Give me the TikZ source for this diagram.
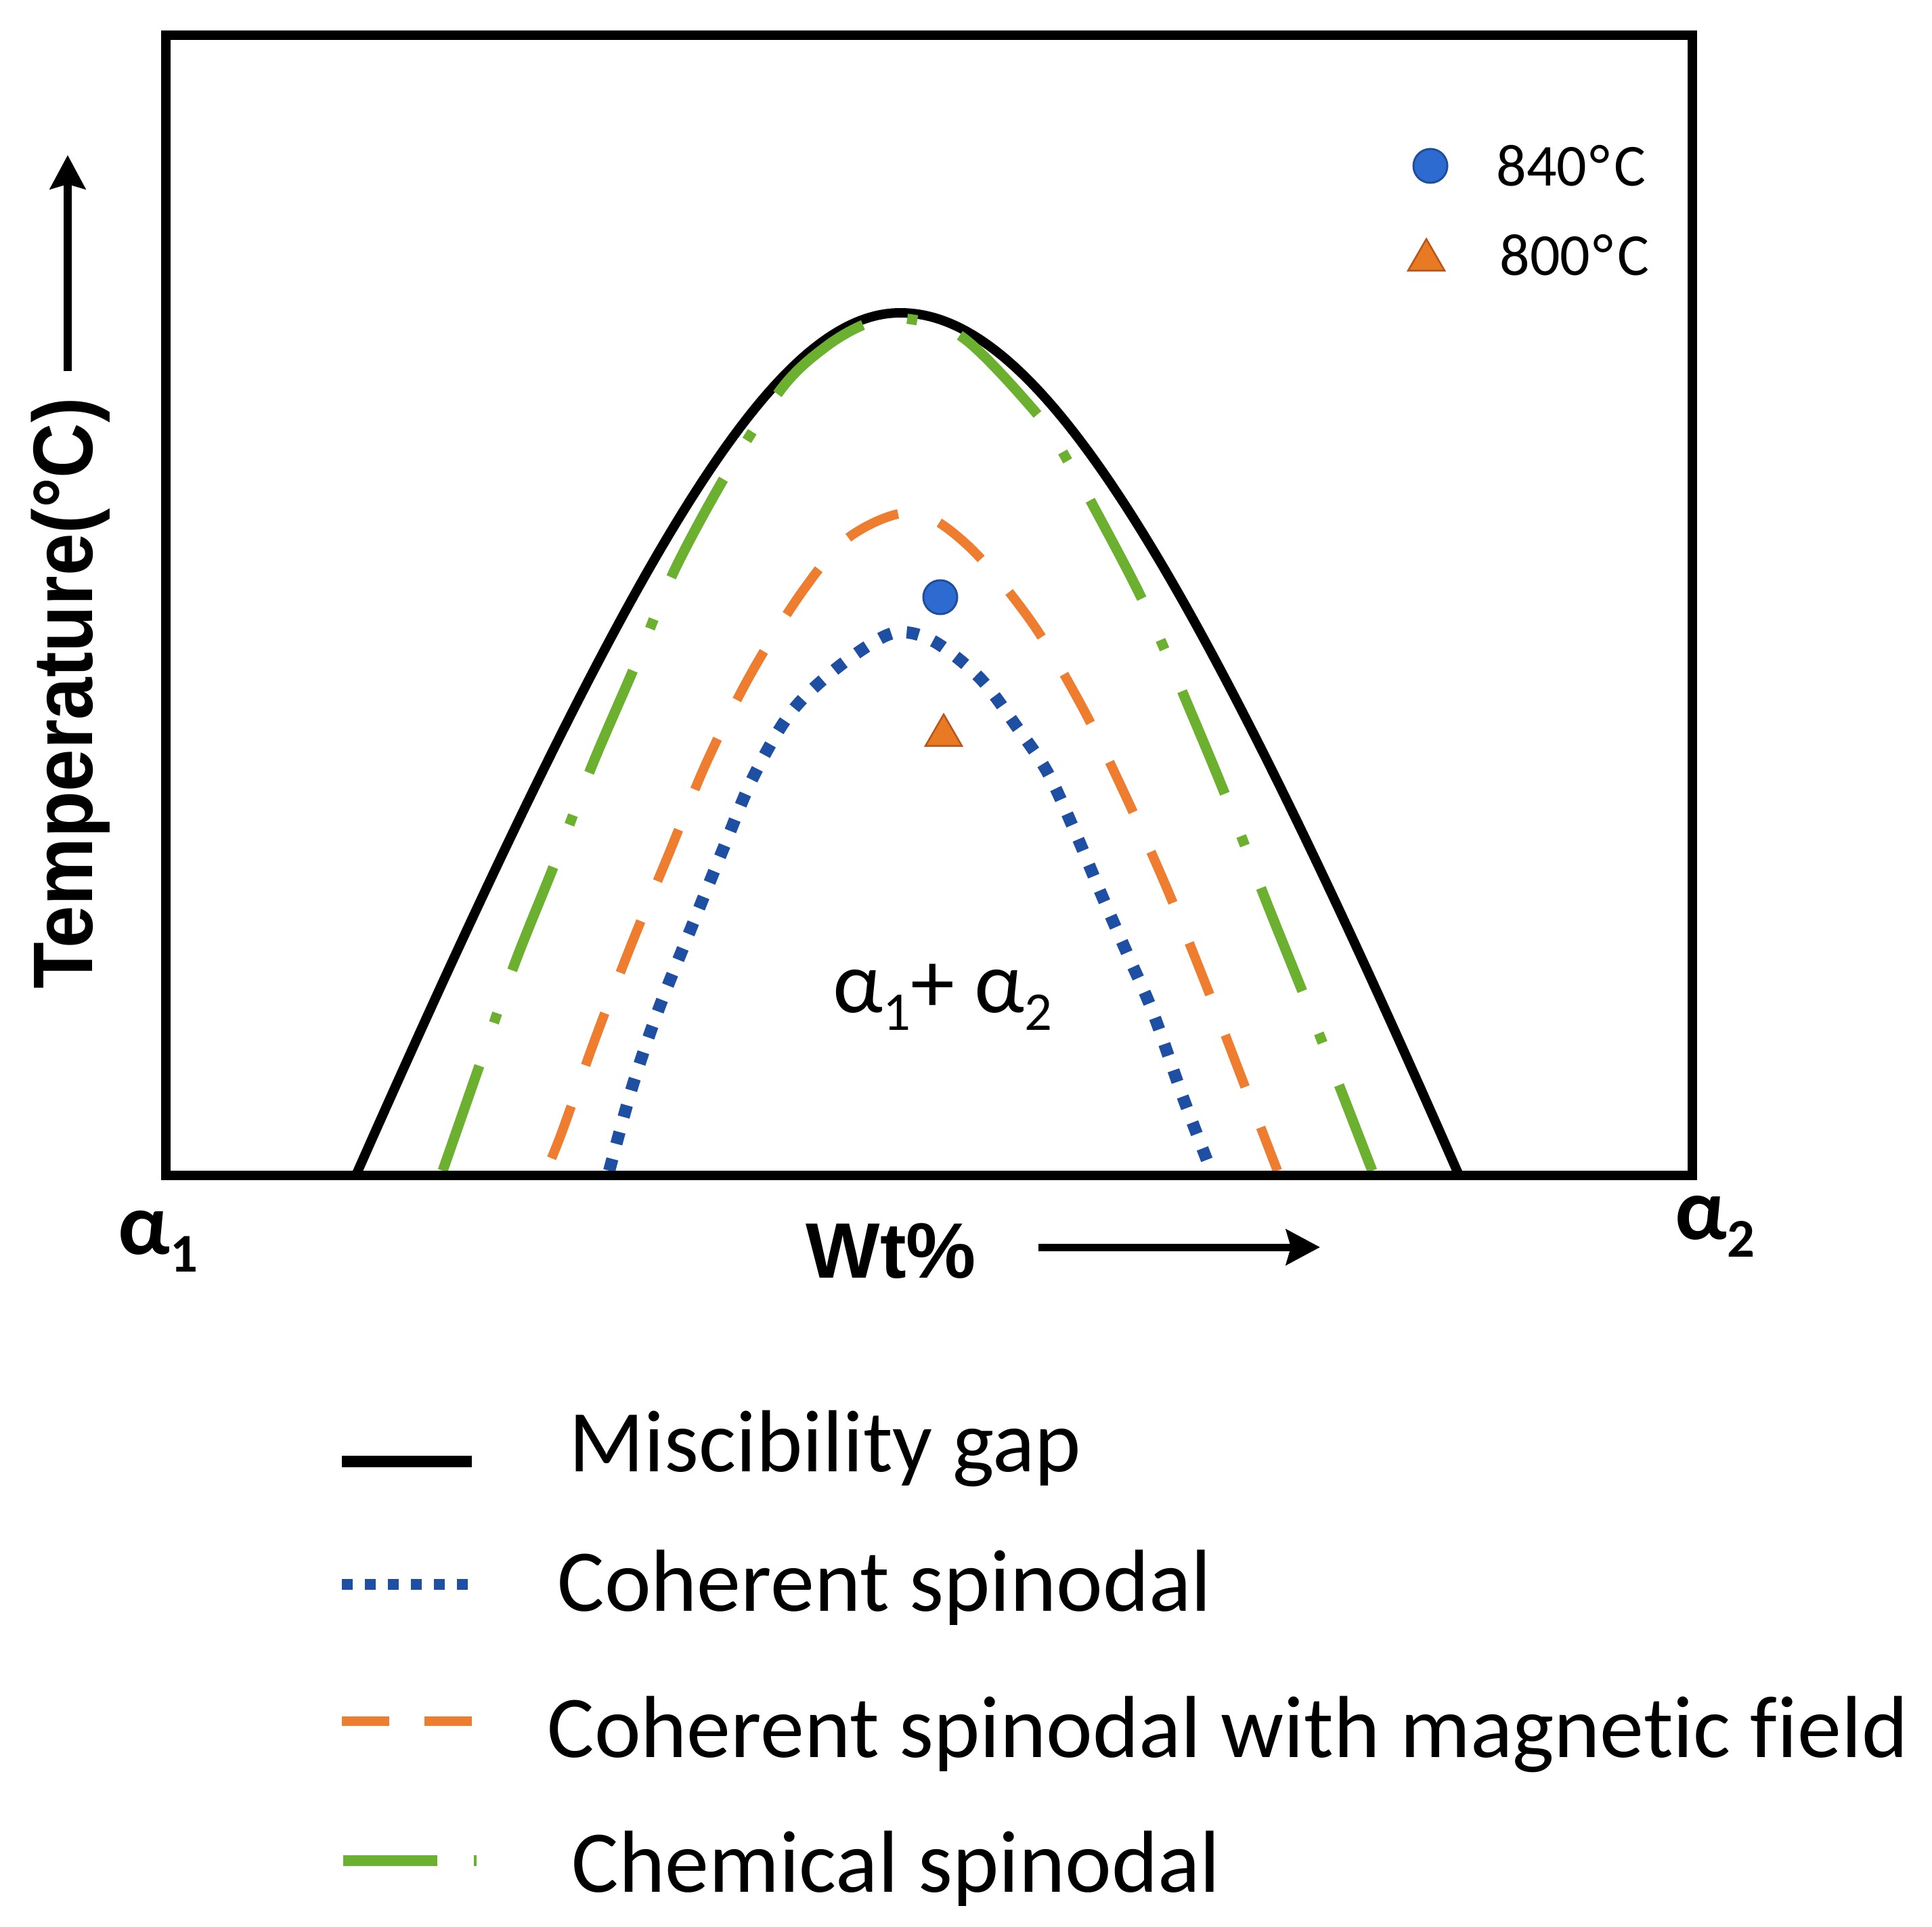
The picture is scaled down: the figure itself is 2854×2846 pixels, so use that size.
\documentclass[tikz,border=0pt]{standalone}
\usepackage{fontspec}
\usepackage{graphicx}
\setmainfont{Carlito}[Ligatures={NoCommon}]
\newfontfamily\arialf{Liberation Sans}
\usetikzlibrary{arrows.meta,shapes.geometric}
\definecolor{dotblue}{HTML}{2E6BD0}
\definecolor{dotblueedge}{HTML}{1F4E9C}
\definecolor{triorange}{HTML}{E87A24}
\definecolor{triedge}{HTML}{B8561B}
\definecolor{cohblue}{HTML}{1F4FA3}
\definecolor{magorange}{HTML}{EE7D2F}
\definecolor{chemgreen}{HTML}{6BB12F}
\newcommand{\dsub}[1]{\raisebox{-0.2em}{\scalebox{0.62}{#1}}}
\newcommand{\degc}{\kern0.05em°\kern0.07em C}
\tikzset{
  gapline/.style={line width=0.14cm, black},
  cohline/.style={line width=0.18cm, cohblue, dash pattern=on 0.18cm off 0.23cm},
  magline/.style={line width=0.14cm, magorange, dash pattern=on 0.82cm off 0.64cm},
  chemline/.style={line width=0.15cm, chemgreen, dash pattern=on 1.64cm off 0.67cm on 0.15cm off 0.67cm},
  framebox/.style={line width=0.14cm, black},
  axarrow/.style={line width=0.11cm, black, -{Stealth[length=0.5cm,width=0.52cm,inset=0.07cm]}},
  legtxt/.style={inner sep=0pt, anchor=base west, font=\fontsize{37}{42}\selectfont},
  smalltxt/.style={inner sep=0pt, anchor=base west, font=\fontsize{25}{30}\selectfont},
  bluedot/.style={circle, inner sep=0pt, outer sep=0pt, minimum size=0.5cm, fill=dotblue, draw=dotblueedge, line width=0.03cm},
  orangetri/.style={regular polygon, regular polygon sides=3, inner sep=0pt, outer sep=0pt, minimum size=0.62cm, fill=triorange, draw=triedge, line width=0.025cm}
}
\begin{document}
\begin{tikzpicture}[x=0.01cm,y=-0.01cm]
\useasboundingbox (0,0) rectangle (2854,2846);

% miscibility gap
\draw[gapline] plot[domain=-8.04:0, samples=70, smooth] ({1330+100*\x},{462+100*(sqrt(90.25+6.25*\x*\x)-9.5)})
  -- plot[domain=0:8.25, samples=70, smooth] ({1330+100*\x},{462+100*(sqrt(136.89+6.76*\x*\x)-11.7)});
% chemical spinodal
\draw[chemline] plot[smooth, tension=0.55] coordinates {(654,1729) (707,1577) (760,1424) (820,1274) (874,1132) (939,981) (996,843) (1075,697) (1156,572) (1220,512) (1280,478) (1335,470) (1423,499) (1535,615) (1578,682) (1616,749) (1690,891) (1753,1037) (1812,1179) (1868,1325) (1927,1472) (1984,1618) (2027,1729)};
% coherent spinodal with magnetic field
\draw[magline, dash phase=1.26cm] plot[smooth, tension=0.55] coordinates {(807,1729) (830,1672) (880,1532) (933,1394) (988,1261) (1045,1123) (1111,992) (1187,871) (1256,792) (1348,757) (1429,805) (1522,916) (1598,1043) (1662,1174) (1722,1308) (1778,1446) (1830,1581) (1875,1698) (1887,1729)};
% coherent spinodal
\draw[cohline] plot[smooth, tension=0.55] coordinates {(900,1729) (934,1605) (972,1493) (1020,1373) (1069,1252) (1112,1149) (1167,1054) (1232,990) (1302,942) (1340,934) (1386,951) (1449,1003) (1501,1072) (1547,1140) (1587,1226) (1627,1321) (1665,1408) (1703,1495) (1748,1622) (1789,1729)};

% frame
\draw[framebox] (245,52) rectangle (2500,1736);

% data markers
\node[bluedot] (p840) at (1389,882) {};
\node[orangetri] (p800) at (1394,1086) {};
\node[bluedot] (l840) at (2113,245) {};
\node[orangetri] (l800) at (2107,384) {};
\node[smalltxt] (t840) at (2210,275) {840\degc};
\node[smalltxt] (t800) at (2215,407) {800\degc};

% region label
\node[legtxt] (reg) at (1230,1495) {α\dsub{1}+ α\dsub{2}};

% axes
\coordinate (ytail) at (100,548);
\coordinate (yhead) at (100,229);
\draw[axarrow] (ytail) -- (yhead);
\coordinate (xtail) at (1534,1842);
\coordinate (xhead) at (1950,1842);
\draw[axarrow] (xtail) -- (xhead);
\node[rotate=90, anchor=base, inner sep=0pt] (ylab) at (136,1024) {\arialf\bfseries\fontsize{35.5}{40}\selectfont\scalebox{0.9}[1]{Temperature(°C)}};
\node[inner sep=0pt, anchor=base west] (xlab) at (1190,1887) {\arialf\bfseries\fontsize{33}{38}\selectfont Wt\%};
\node[inner sep=0pt, anchor=base west] (a1) at (174,1852) {\bfseries\fontsize{37}{42}\selectfont α\dsub{1}};
\node[inner sep=0pt, anchor=base west] (a2) at (2474,1830) {\bfseries\fontsize{37}{42}\selectfont α\dsub{2}};

% legend
\coordinate (g1a) at (505,2158); \coordinate (g1b) at (697,2158);
\coordinate (g2a) at (505,2340); \coordinate (g2b) at (697,2340);
\coordinate (g3a) at (505,2542); \coordinate (g3b) at (697,2542);
\coordinate (g4a) at (507,2748); \coordinate (g4b) at (704,2748);
\draw[gapline, line width=0.17cm] (g1a) -- (g1b);
\draw[cohline, line width=0.16cm, dash pattern=on 0.16cm off 0.18cm] (g2a) -- (g2b);
\draw[magline, dash pattern=on 0.70cm off 0.52cm] (g3a) -- (g3b);
\draw[chemline, line width=0.16cm, dash pattern=on 1.39cm off 0.54cm on 0.15cm off 0.54cm] (g4a) -- (g4b);
\node[legtxt] (lt1) at (840,2173) {Miscibility gap};
\node[legtxt] (lt2) at (823,2379) {Coherent spinodal};
\node[legtxt] (lt3) at (808,2595) {Coherent spinodal with magnetic field};
\node[legtxt] (lt4) at (844,2794) {Chemical spinodal};
\end{tikzpicture}
\end{document}
